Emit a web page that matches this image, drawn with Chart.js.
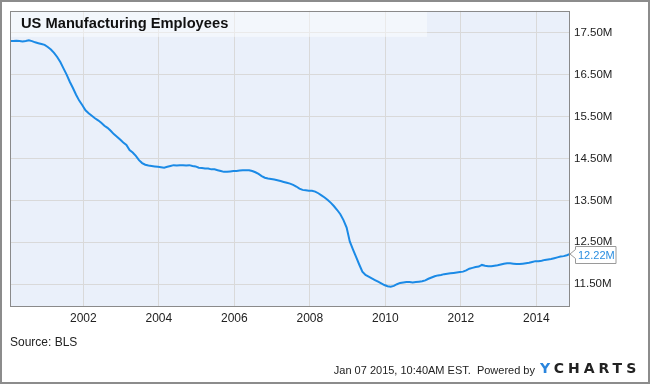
<!DOCTYPE html>
<html>
<head>
<meta charset="utf-8">
<script src="https://cdn.jsdelivr.net/npm/chart.js@4.4.1/dist/chart.umd.min.js"></script>
<style>
  html, body { margin: 0; padding: 0; background: #fff; }
  #wrap { position: relative; width: 650px; height: 384px; overflow: hidden; }
  canvas { position: absolute; left: 0; top: 0; }
  .txt { position: absolute; font-family: "Liberation Sans", Arial, sans-serif; color: #222; white-space: nowrap; }
  #title { left: 21px; top: 15px; font-size: 14.7px; font-weight: bold; color: #111; }
  #source { left: 10px; top: 335px; font-size: 12px; }
  #stamp { right: 115px; top: 364px; font-size: 11px; text-align: right; }
  #logo { left: 540px; top: 360px; font-family: "DejaVu Sans", sans-serif; font-size: 14px; font-weight: bold; letter-spacing: 4px; color: #222; }
  #logo span { color: #2a85dd; }
</style>
</head>
<body>
<div id="wrap">
  <canvas id="c" width="650" height="384"></canvas>
  <div class="txt" id="title">US Manufacturing Employees</div>
  <div class="txt" id="source">Source: BLS</div>
  <div class="txt" id="stamp">Jan 07 2015, 10:40AM EST.&nbsp; Powered by</div>
  <div class="txt" id="logo"><span>Y</span>CHARTS</div>
</div>
<script>
// ---- data (monthly, millions of employees), Jan 2000 .. Nov 2014 ----
const firstYear = 2000;
const employees = [
  // 2000
  17.30, 17.30, 17.31, 17.30, 17.29, 17.30, 17.32, 17.30, 17.27, 17.25, 17.23, 17.21,
  // 2001
  17.16, 17.10, 17.02, 16.92, 16.80, 16.65, 16.50, 16.33, 16.18, 16.02, 15.88, 15.77,
  // 2002
  15.65, 15.58, 15.52, 15.46, 15.41, 15.35, 15.28, 15.23, 15.16, 15.08, 15.02, 14.95,
  // 2003
  14.88, 14.82, 14.70, 14.64, 14.56, 14.46, 14.39, 14.35, 14.33, 14.32, 14.31, 14.30,
  // 2004
  14.29, 14.28, 14.30, 14.32, 14.34, 14.33, 14.34, 14.34, 14.33, 14.34, 14.32, 14.31,
  // 2005
  14.28, 14.27, 14.26, 14.26, 14.24, 14.24, 14.22, 14.20, 14.18, 14.18, 14.19, 14.20,
  // 2006
  14.20, 14.21, 14.22, 14.22, 14.22, 14.20, 14.17, 14.13, 14.08, 14.04, 14.02, 14.01,
  // 2007
  14.00, 13.98, 13.96, 13.94, 13.92, 13.90, 13.87, 13.83, 13.78, 13.75, 13.74, 13.73,
  // 2008
  13.73, 13.71, 13.67, 13.62, 13.57, 13.51, 13.44, 13.36, 13.27, 13.17, 13.03, 12.85,
  // 2009
  12.52, 12.33, 12.15, 11.97, 11.80, 11.72, 11.68, 11.64, 11.60, 11.56, 11.52, 11.48,
  // 2010
  11.45, 11.44, 11.46, 11.50, 11.53, 11.54, 11.55, 11.55, 11.54, 11.55, 11.56, 11.57,
  // 2011
  11.59, 11.63, 11.66, 11.69, 11.71, 11.72, 11.74, 11.75, 11.76, 11.77, 11.78, 11.79,
  // 2012
  11.80, 11.83, 11.87, 11.89, 11.91, 11.92, 11.96, 11.94, 11.93, 11.93, 11.94, 11.95,
  // 2013
  11.97, 11.99, 12.00, 12.00, 11.99, 11.98, 11.98, 11.99, 12.00, 12.01, 12.03, 12.05,
  // 2014
  12.05, 12.06, 12.08, 12.09, 12.10, 12.12, 12.14, 12.16, 12.17, 12.19, 12.22
];
const xTicks = [2002, 2004, 2006, 2008, 2010, 2012, 2014];
const yTicks = [11.5, 12.5, 13.5, 14.5, 15.5, 16.5, 17.5];
const yMin = 10.98, yMax = 18.02;

// ---- build points (decimal year for each month) ----
const points = employees.map((v, i) => ({ x: firstYear + (i + 0.7) / 12, y: v }));
const lastVal = employees[employees.length - 1];

const FONT = '"Liberation Sans", Arial, sans-serif';

const framePlugin = {
  id: 'frame',
  beforeDraw(chart) {
    const { ctx, chartArea: a } = chart;
    ctx.save();
    ctx.fillStyle = '#ffffff';
    ctx.fillRect(0, 0, chart.width, chart.height);
    ctx.fillStyle = '#eaf0fa';
    ctx.fillRect(a.left, a.top, a.right - a.left, a.bottom - a.top);
    ctx.restore();
  },
  beforeDatasetsDraw(chart) {
    const { ctx, chartArea: a } = chart;
    ctx.save();
    ctx.fillStyle = 'rgba(255,255,255,0.45)';
    ctx.fillRect(a.left, a.top, 417, 26);
    ctx.restore();
  },
  afterDraw(chart) {
    const { ctx, chartArea: a, scales } = chart;
    ctx.save();
    ctx.strokeStyle = '#8a8a8a';
    ctx.lineWidth = 1;
    ctx.strokeRect(Math.round(a.left) + 0.5, Math.round(a.top) + 0.5,
                   Math.round(a.right - a.left) - 1, Math.round(a.bottom - a.top));
    ctx.strokeStyle = '#8c8c8c';
    ctx.lineWidth = 2;
    ctx.strokeRect(1, 1, chart.width - 2, chart.height - 2);
    // callout for last value
    const px = a.right;
    const py = scales.y.getPixelForValue(lastVal);
    const bx = px + 5, bw = 41, bh = 17, by = Math.round(py - bh / 2) + 0.5;
    ctx.beginPath();
    ctx.moveTo(bx + 0.5, by);
    ctx.lineTo(bx + bw, by);
    ctx.lineTo(bx + bw, by + bh);
    ctx.lineTo(bx + 0.5, by + bh);
    ctx.lineTo(bx + 0.5, py + 4.5);
    ctx.lineTo(px, py);
    ctx.lineTo(bx + 0.5, py - 4.5);
    ctx.closePath();
    ctx.fillStyle = '#ffffff';
    ctx.fill();
    ctx.strokeStyle = '#9a9a9a';
    ctx.lineWidth = 1;
    ctx.stroke();
    ctx.fillStyle = '#2b8ee0';
    ctx.font = '11px ' + FONT;
    ctx.textBaseline = 'middle';
    ctx.textAlign = 'left';
    ctx.fillText(lastVal.toFixed(2) + 'M', bx + 3, by + bh / 2 + 0.5);
    ctx.restore();
  }
};

new Chart(document.getElementById('c'), {
  type: 'line',
  data: {
    datasets: [{
      data: points,
      borderColor: '#1b8ae6',
      borderWidth: 2,
      pointRadius: 0,
      tension: 0,
      fill: false
    }]
  },
  options: {
    responsive: false,
    animation: false,
    devicePixelRatio: 1,
    layout: { padding: { left: 10, top: 10, right: 0, bottom: 0 } },
    plugins: { legend: { display: false }, tooltip: { enabled: false }, title: { display: false } },
    scales: {
      x: {
        type: 'linear',
        min: points[0].x,
        max: points[points.length - 1].x,
        afterBuildTicks(scale) { scale.ticks = xTicks.map(v => ({ value: v })); },
        afterFit(scale) { scale.height = 78; },
        grid: { color: '#d9d9d9', lineWidth: 1, drawTicks: false },
        border: { display: false },
        ticks: {
          padding: 5,
          color: '#222',
          font: { family: FONT, size: 12 },
          maxRotation: 0,
          autoSkip: false,
          callback: v => String(v)
        }
      },
      y: {
        position: 'right',
        min: yMin,
        max: yMax,
        afterBuildTicks(scale) { scale.ticks = yTicks.map(v => ({ value: v })); },
        afterFit(scale) { scale.width = 80; },
        grid: { color: '#d9d9d9', lineWidth: 1, drawTicks: false },
        border: { display: false },
        ticks: {
          padding: 4,
          color: '#222',
          font: { family: FONT, size: 11.5 },
          autoSkip: false,
          callback: v => v.toFixed(2) + 'M'
        }
      }
    }
  },
  plugins: [framePlugin]
});
</script>
</body>
</html>
